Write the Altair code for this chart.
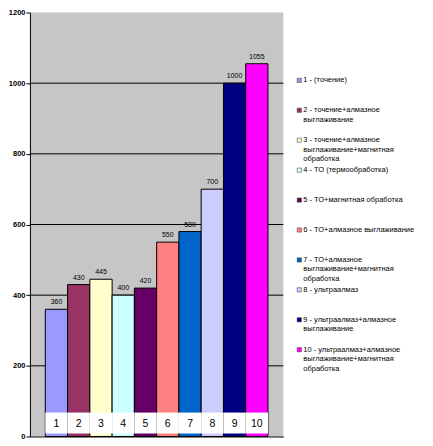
import altair as alt
import pandas as pd

categories = ["1", "2", "3", "4", "5", "6", "7", "8", "9", "10"]
values = [360, 430, 445, 400, 420, 550, 580, 700, 1000, 1055]
colors = ["#9999FF", "#993366", "#FFFFCC", "#CCFFFF", "#660066",
          "#FF8080", "#0066CC", "#CCCCFF", "#000080", "#FF00FF"]
legend_labels = [
    "1 - (точение)",
    "2 - точение+алмазное\nвыглаживание",
    "3 - точение+алмазное\nвыглаживание+магнитная\nобработка",
    "4 - ТО (термообработка)",
    "5 - ТО+магнитная обработка",
    "6 - ТО+алмазное выглаживание",
    "7 - ТО+алмазное\nвыглаживание+магнитная\nобработка",
    "8 - ультраалмаз",
    "9 - ультраалмаз+алмазное\nвыглаживание",
    "10 - ультраалмаз+алмазное\nвыглаживание+магнитная\nобработка",
]
y_ticks = [0, 200, 400, 600, 800, 1000, 1200]
grid_values = [200, 400, 600, 800, 1000]

df = pd.DataFrame({"cat": categories, "value": values, "color": colors,
                   "legend": legend_labels})
grid_df = pd.DataFrame({"g": grid_values})

FONT = "Liberation Sans"
W, H = 254, 425

xscale = alt.Scale(domain=categories, paddingInner=0, paddingOuter=0.69)
yscale = alt.Scale(domain=[0, 1200], nice=False)
cscale = alt.Scale(domain=categories, range=colors)

base = alt.Chart(df)

grid = alt.Chart(grid_df).mark_rule(color="black", strokeWidth=1).encode(
    y=alt.Y("g:Q", scale=yscale)
)

bars = base.mark_bar(stroke="black", strokeWidth=1).encode(
    x=alt.X("cat:N", scale=xscale, sort=categories,
            axis=alt.Axis(labels=False, ticks=False, title=None,
                          domainColor="black", domainWidth=1)),
    y=alt.Y("value:Q", scale=yscale,
            axis=alt.Axis(values=y_ticks, grid=False, title=None, format="d",
                          domainColor="black", tickColor="black", tickSize=4,
                          labelPadding=1, labelFont=FONT, labelFontSize=7.5,
                          labelFontWeight="bold", labelColor="black")),
    color=alt.Color("cat:N", scale=cscale, legend=None),
)

bar_labels = base.mark_text(font=FONT, fontSize=7, dy=-4, baseline="bottom",
                            color="black").encode(
    x=alt.X("cat:N", scale=xscale, sort=categories),
    y=alt.Y("value:Q", scale=yscale),
    text="value:Q",
)

boxes = base.mark_rect(fill="white").encode(
    x=alt.X("cat:N", scale=xscale, sort=categories),
    y=alt.value(401),
    y2=alt.value(422),
)

box_text = base.mark_text(font=FONT, fontSize=10.5, baseline="middle",
                          color="black").encode(
    x=alt.X("cat:N", scale=xscale, sort=categories),
    y=alt.value(412),
    text="cat:N",
)

main = alt.layer(grid, bars, bar_labels, boxes, box_text).properties(
    width=W, height=H,
    view=alt.ViewBackground(fill="#C6C6C6", strokeWidth=0),
)

lscale = alt.Scale(domain=categories, range=[53, 353])

leg_sq = base.mark_square(size=18, stroke="#333333", strokeWidth=0.5,
                          opacity=1).encode(
    x=alt.value(15),
    y=alt.Y("cat:N", scale=lscale, sort=categories, axis=None),
    color=alt.Color("cat:N", scale=cscale, legend=None),
)

leg_txt = base.mark_text(font=FONT, fontSize=7.5, align="left", baseline="top",
                         dy=-4, lineBreak="\n", lineHeight=9.5,
                         color="black").encode(
    x=alt.value(19),
    y=alt.Y("cat:N", scale=lscale, sort=categories, axis=None),
    text="legend:N",
)

legend = alt.layer(leg_sq, leg_txt).properties(
    width=141, height=H,
    view=alt.ViewBackground(fill="white", strokeWidth=0),
)

chart = alt.hconcat(main, legend, spacing=0).properties(
    padding={"left": 0, "top": 0, "right": 0, "bottom": 0},
).configure_view(strokeWidth=0).resolve_scale(color="shared")

chart.save("out.html", embed_options={"renderer": "svg", "actions": False})
